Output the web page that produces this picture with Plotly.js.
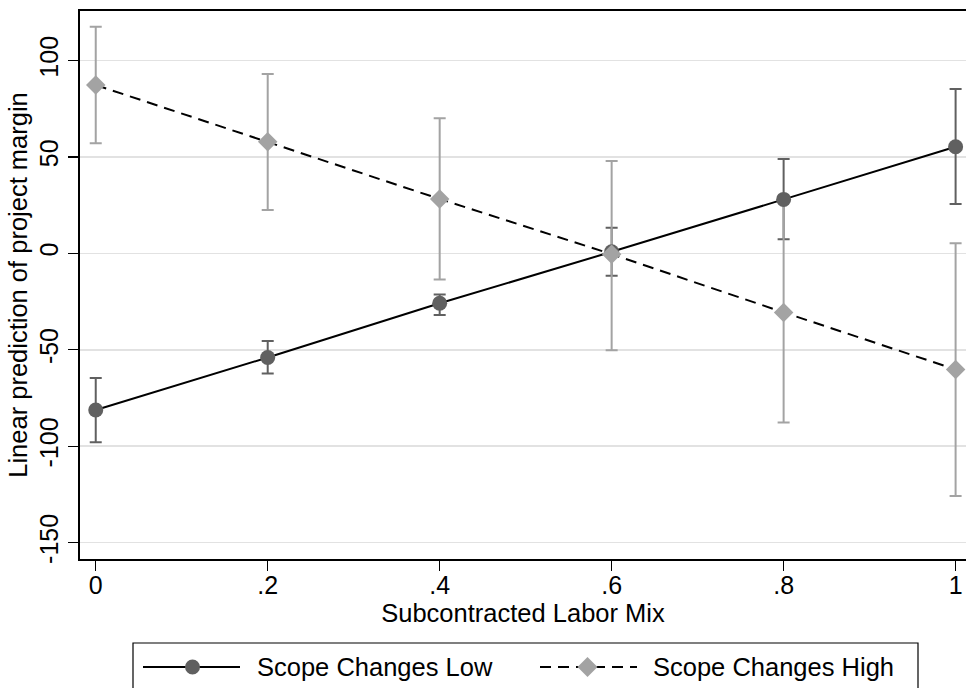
<!DOCTYPE html>
<html>
<head>
<meta charset="utf-8">
<script src="https://cdn.plot.ly/plotly-3.0.1.min.js"></script>
<style>html,body{margin:0;padding:0;background:#fff;overflow:hidden}</style>
</head>
<body>
<div id="chart" style="width:966px;height:688px"></div>
<script>
// ---- data ----
var xVals = [0, 0.2, 0.4, 0.6, 0.8, 1];
var lowMean  = [-81.2, -54.0, -25.9, 0.8, 28.0, 55.3];
var lowLower = [-97.9, -62.3, -32.0, -11.6, 7.3, 25.6];
var lowUpper = [-64.6, -45.4, -21.3, 13.3, 48.9, 85.3];
var highMean  = [87.3, 57.9, 28.2, -0.4, -30.6, -60.2];
var highLower = [57.1, 22.5, -13.5, -50.3, -87.7, -125.8];
var highUpper = [117.5, 93.0, 70.1, 47.9, 26.5, 5.2];
var seriesNames = ["Scope Changes Low", "Scope Changes High"];
var xTickVals = [0, 0.2, 0.4, 0.6, 0.8, 1];
var xTickText = ["0", ".2", ".4", ".6", ".8", "1"];
var yTickVals = [-150, -100, -50, 0, 50, 100];
var yTickText = ["-150", "-100", "-50", "0", "50", "100"];
var xTitle = "Subcontracted Labor Mix";
var yTitle = "Linear prediction of project margin";

// ---- styling ----
var FONT = "Liberation Sans, Arial, Helvetica, sans-serif";
var DARK = "#606060", LIGHT = "#a3a3a3";
var DASH = "11px,7px";

function plus(m, b) { return m.map(function (v, i) { return b[i] - v; }); }
function minus(m, b) { return m.map(function (v, i) { return v - b[i]; }); }

function errTrace(mean, lo, hi, col) {
  return {
    x: xVals, y: mean, type: "scatter", mode: "markers",
    marker: {size: 1, color: "rgba(0,0,0,0)"},
    error_y: {type: "data", symmetric: false, array: plus(mean, hi), arrayminus: minus(mean, lo),
              color: col, thickness: 2, width: 6},
    showlegend: false, hoverinfo: "skip"
  };
}

var traces = [
  errTrace(lowMean, lowLower, lowUpper, DARK),
  errTrace(highMean, highLower, highUpper, LIGHT),
  {x: xVals, y: lowMean, type: "scatter", mode: "lines", name: seriesNames[0],
   line: {color: "#000", width: 2}, showlegend: false},
  {x: xVals, y: highMean, type: "scatter", mode: "lines", name: seriesNames[1],
   line: {color: "#000", width: 2, dash: DASH}, showlegend: false},
  {x: xVals, y: lowMean, type: "scatter", mode: "markers", name: seriesNames[0],
   marker: {symbol: "circle", size: 15, color: DARK}, showlegend: false},
  {x: xVals, y: highMean, type: "scatter", mode: "markers", name: seriesNames[1],
   marker: {symbol: "diamond", size: 15, color: LIGHT}, showlegend: false}
];

// legend geometry (paper coords relative to plot area)
var L = 80, W = 886, B = 559, H = 548;
function px(v) { return (v - L) / W; }
function py(v) { return (B - v) / H; }
var legY = py(667);

var shapes = [
  {type: "rect", xref: "paper", yref: "paper", x0: px(133), x1: px(918), y0: py(643), y1: py(720),
   line: {color: "#000", width: 1.2}, fillcolor: "rgba(0,0,0,0)"},
  {type: "line", xref: "paper", yref: "paper", x0: px(143), x1: px(240), y0: legY, y1: legY,
   line: {color: "#000", width: 2}},
  {type: "circle", xref: "paper", yref: "paper", xsizemode: "pixel", ysizemode: "pixel",
   xanchor: px(192.5), yanchor: legY, x0: -7.5, x1: 7.5, y0: -7.5, y1: 7.5,
   fillcolor: DARK, line: {width: 0}},
  {type: "line", xref: "paper", yref: "paper", x0: px(540), x1: px(637), y0: legY, y1: legY,
   line: {color: "#000", width: 2, dash: DASH}},
  {type: "path", xref: "paper", yref: "paper", xsizemode: "pixel", ysizemode: "pixel",
   xanchor: px(587.5), yanchor: legY, path: "M0,10 L10,0 L0,-10 L-10,0 Z",
   fillcolor: LIGHT, line: {width: 0}}
];

var annotations = [
  {xref: "paper", yref: "paper", x: px(255), y: legY, xanchor: "left", yanchor: "middle",
   text: seriesNames[0], showarrow: false, font: {family: FONT, size: 25.5, color: "#000"}},
  {xref: "paper", yref: "paper", x: px(651), y: legY, xanchor: "left", yanchor: "middle",
   text: seriesNames[1], showarrow: false, font: {family: FONT, size: 25.5, color: "#000"}}
];

var layout = {
  width: 966, height: 688,
  margin: {l: L, r: 0, t: 11, b: 688 - B, pad: 0},
  paper_bgcolor: "#fff", plot_bgcolor: "#fff",
  font: {family: FONT, color: "#000"},
  showlegend: false,
  xaxis: {
    range: [-0.0183, 1.0121], tickmode: "array", tickvals: xTickVals, ticktext: xTickText,
    ticks: "outside", ticklen: 10, tickwidth: 1.3, tickcolor: "#000",
    ticklabelstandoff: -7,
    showline: true, linecolor: "#000", linewidth: 2, mirror: true,
    showgrid: false, zeroline: false,
    tickfont: {family: FONT, size: 25, color: "#000"},
    title: {text: xTitle, font: {family: FONT, size: 25.5, color: "#000"}, standoff: 4}
  },
  yaxis: {
    range: [-158.5, 125.7], tickmode: "array", tickvals: yTickVals, ticktext: yTickText,
    tickangle: -90,
    ticks: "outside", ticklen: 10, tickwidth: 1.3, tickcolor: "#000",
    showline: true, linecolor: "#000", linewidth: 2,
    showgrid: true, gridcolor: "#e2e2e2", gridwidth: 1.5, zeroline: false,
    tickfont: {family: FONT, size: 25, color: "#000"},
    title: {text: yTitle, font: {family: FONT, size: 25.5, color: "#000"}, standoff: 0}
  },
  shapes: shapes,
  annotations: annotations
};

Plotly.newPlot("chart", traces, layout, {staticPlot: true, displayModeBar: false});
</script>
</body>
</html>
